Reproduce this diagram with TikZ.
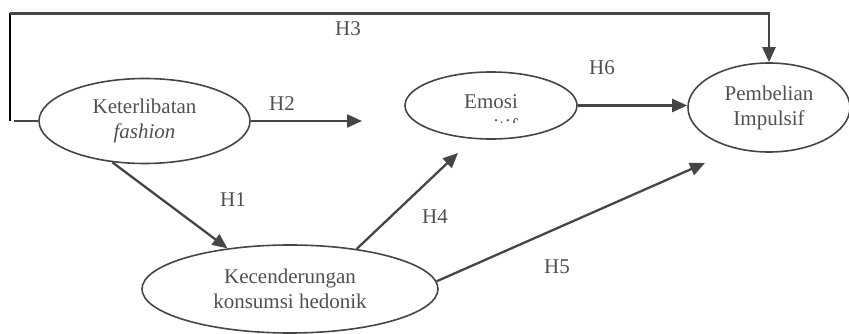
\documentclass[tikz,border=0pt]{standalone}
\usepackage{fontspec}
\setmainfont{Liberation Serif}
\usetikzlibrary{shapes.geometric,arrows.meta}
\definecolor{ink}{HTML}{454545}
\definecolor{txt}{HTML}{505050}
\tikzset{
  var/.style={ellipse, draw=ink, line width=1.6pt, inner sep=0pt, align=center, text=txt},
  path/.style={draw=ink, line width=2.3pt, -{Triangle[length=15pt,width=13pt]}},
  plain/.style={draw=ink, line width=2pt},
  hlab/.style={text=txt, inner sep=0pt}
}
\begin{document}
\begin{tikzpicture}[x=1pt,y=-1pt, font=\fontsize{21}{25}\selectfont]
\useasboundingbox (0,0) rectangle (849,334);
% nodes
\node[var, minimum width=211pt, minimum height=85pt] (ket) at (144.5,121) {Keterlibatan\\\textit{fashion}};
\node[var, minimum width=172pt, minimum height=67pt] (emo) at (491,105.5) {};
\node[hlab, anchor=base] (emot) at (491,109) {Emosi};
\begin{scope}
  \clip (440,110) rectangle (545,123);
  \node[hlab, anchor=base] (emop) at (491,134) {positif};
\end{scope}
\node[var, minimum width=162pt, minimum height=89pt] (pem) at (769,107.5) {Pembelian\\Impulsif};
\node[var, minimum width=296pt, minimum height=88pt] (kec) at (290,289) {Kecenderungan\\konsumsi hedonik};
% free ends
\coordinate (h2end) at (362,121);
\coordinate (h4end) at (458,153);
\coordinate (h5end) at (705,163);
\coordinate (tl) at (9.5,13.5);
\coordinate (bl) at (9.5,121);
\coordinate (hs) at (14,121);
% connectors
\draw[path] (ket.east) -- (h2end);
\draw[path] (emo.east) -- (emo.east -| pem.west);
\draw[path] (ket.232) -- (kec.147);
\draw[path] (kec.31) -- (h4end);
\draw[path] (kec.3) -- (h5end);
\draw[plain] (hs) -- (ket.west);
\draw[draw=black, line width=2pt] (bl) -- (tl);
\draw[path] (tl) -| (pem.north);
% labels
\node[hlab] (l3) at (348,29) {H3};
\node[hlab] (l2) at (282,104) {H2};
\node[hlab] (l6) at (602,68) {H6};
\node[hlab] (l1) at (233,200) {H1};
\node[hlab] (l4) at (435,217) {H4};
\node[hlab] (l5) at (557,267) {H5};
\end{tikzpicture}
\end{document}
